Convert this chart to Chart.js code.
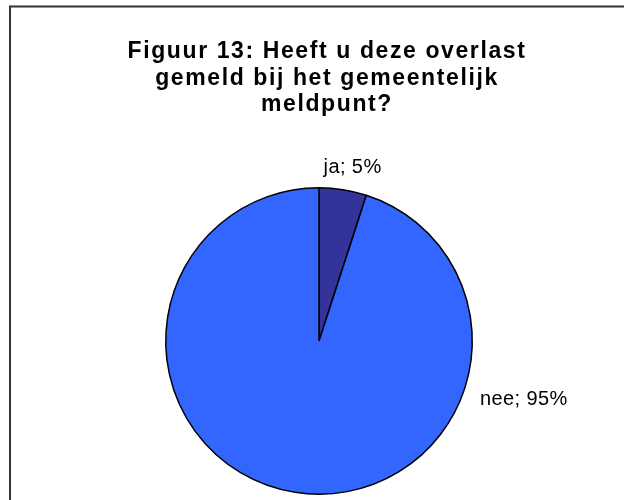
<!DOCTYPE html>
<html>
<head>
<meta charset="utf-8">
<script src="https://cdn.jsdelivr.net/npm/chart.js@4"></script>
<style>
    body { margin: 0; background: #fff; }
    #wrap { width: 624px; height: 500px; }
</style>
</head>
<body>
<div id="wrap"><canvas id="pieChart" width="624" height="500"></canvas></div>
<script>
const labels = ['ja', 'nee'];
const percentages = [5, 95];
const sliceColors = ['#333399', '#3366FF'];
const titleLines = ['Figuur 13: Heeft u deze overlast', 'gemeld bij het gemeentelijk', 'meldpunt?'];

// frame round the chart (only top and left edge are visible in the picture)
const framePlugin = {
    id: 'frame',
    beforeDraw: function(chart) {
        const ctx = chart.ctx;
        ctx.save();
        ctx.strokeStyle = '#333';
        ctx.lineWidth = 2;
        ctx.beginPath();
        ctx.moveTo(10, chart.height + 2);
        ctx.lineTo(10, 6.5);
        ctx.lineTo(chart.width + 2, 6.5);
        ctx.stroke();
        ctx.restore();
    }
};

// spaced-out bold title, drawn by hand so letter spacing can be set
const spacedTitle = {
    id: 'spacedTitle',
    afterDraw: function(chart, args, opts) {
        const ctx = chart.ctx;
        ctx.save();
        ctx.font = opts.font;
        ctx.letterSpacing = opts.spacing;
        ctx.fillStyle = '#000';
        ctx.textAlign = 'center';
        ctx.textBaseline = 'alphabetic';
        titleLines.forEach(function(line, i) {
            ctx.fillText(line, opts.x, opts.y + i * opts.lineHeight);
        });
        ctx.restore();
    }
};

// "label; value%" text outside the pie
const outsideLabels = {
    id: 'outsideLabels',
    afterDatasetsDraw: function(chart, args, opts) {
        const ctx = chart.ctx;
        const meta = chart.getDatasetMeta(0);
        ctx.save();
        ctx.font = opts.font;
        ctx.letterSpacing = opts.spacing;
        ctx.fillStyle = '#000';
        ctx.textBaseline = 'middle';
        ctx.textAlign = 'center';
        meta.data.forEach(function(arc, i) {
            const p = arc.getProps(['x', 'y', 'outerRadius'], true);
            const dist = p.outerRadius * opts.distance[i];
            const tx = p.x + Math.cos(opts.angles[i]) * dist;
            const ty = p.y + Math.sin(opts.angles[i]) * dist;
            ctx.fillText(labels[i] + '; ' + percentages[i] + '%', tx, ty);
        });
        ctx.restore();
    }
};

const ctx = document.getElementById('pieChart').getContext('2d');
new Chart(ctx, {
    type: 'pie',
    data: {
        labels: labels,
        datasets: [{
            data: percentages,
            backgroundColor: sliceColors,
            borderColor: '#000',
            borderWidth: 1.5
        }]
    },
    options: {
        responsive: false,
        animation: false,
        layout: { padding: { top: 187, bottom: 5, left: 14, right: 0 } },
        plugins: {
            legend: { display: false },
            tooltip: { enabled: false },
            title: { display: false },
            spacedTitle: {
                font: 'bold 23px "Liberation Sans"',
                spacing: '1.6px',
                x: 327,
                y: 58,
                lineHeight: 26.5
            },
            outsideLabels: {
                font: '20px "Liberation Sans"',
                spacing: '0.4px',
                angles: [-1.38, 0.279],
                distance: [1.155, 1.39]
            }
        }
    },
    plugins: [framePlugin, spacedTitle, outsideLabels]
});
</script>
</body>
</html>
